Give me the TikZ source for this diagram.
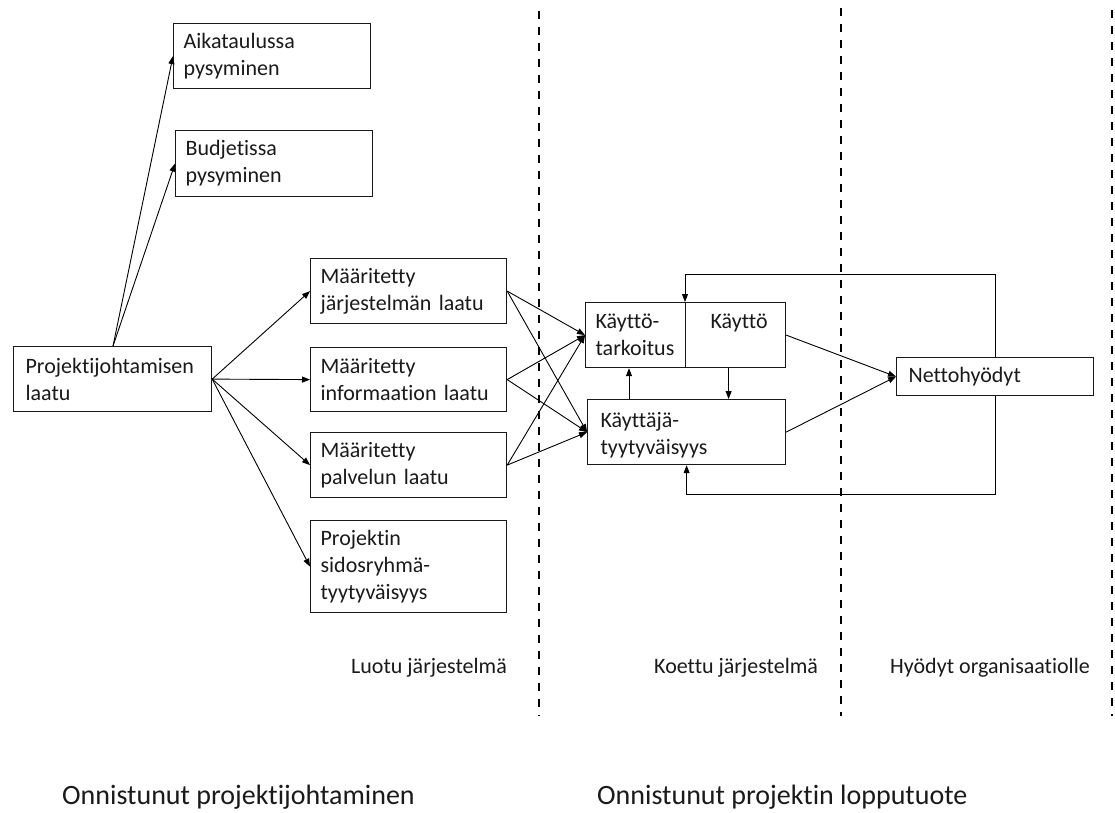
\documentclass[tikz,border=0pt]{standalone}
\usepackage{fontspec}
\setmainfont{Carlito}[Ligatures={NoCommon}]
\usetikzlibrary{arrows.meta,calc}
\definecolor{txt}{HTML}{1A1A1A}
\tikzset{
  box/.style={draw=black!90, line width=1.2pt, rectangle, anchor=north west,
    align=left, inner ysep=0pt, text=txt,
    font=\fontsize{22}{27}\selectfont},
  arr/.style={draw=black, line width=0.9pt, -{Triangle[length=8pt,width=6pt]}},
  dashline/.style={draw=black, line width=2.5pt, dash pattern=on 8pt off 8pt},
  lbl/.style={inner sep=0pt, text=txt, font=\fontsize{22}{27}\selectfont},
  biglbl/.style={inner sep=0pt, text=txt, font=\fontsize{28}{34}\selectfont}
}
\begin{document}
\begin{tikzpicture}[x=1pt,y=-1pt]
\useasboundingbox[fill=white] (0,0) rectangle (1115,812);

% dashed separators
\draw[dashline] (539,11) -- (539,716);
\draw[dashline] (841,8) -- (841,716);
\draw[dashline] (1112,10) -- (1112,716);

% boxes
\node[box, text width=177pt, inner xsep=10pt, minimum height=65pt] (aika) at (173,23) {Aikataulussa\\pysyminen};
\node[box, text width=177pt, inner xsep=10pt, minimum height=66pt] (budj) at (175,130) {Budjetissa\\pysyminen};
\node[box, text width=174pt, inner xsep=12pt, minimum height=65pt] (proj) at (13,346) {Projektijohtamisen\\laatu};
\node[box, text width=176pt, inner xsep=10pt, minimum height=65pt] (mj) at (310,258) {Määritetty\\järjestelmän laatu};
\node[box, text width=176pt, inner xsep=10pt, minimum height=64pt] (mi) at (310,347) {Määritetty\\informaation laatu};
\node[box, text width=176pt, inner xsep=10pt, minimum height=65pt] (mp) at (310,432) {Määritetty\\palvelun laatu};
\node[box, text width=176pt, inner xsep=10pt, minimum height=92pt] (ps) at (310,520) {Projektin\\sidosryhmä-\\tyytyväisyys};
\node[box, text width=80pt, inner xsep=10pt, minimum height=65pt] (kt) at (585,302) {Käyttö-\\tarkoitus};
\node[box, text width=60pt, inner xsep=20pt, minimum height=65pt] (ky) at (685,302) {\hspace*{5pt}Käyttö\\\mbox{}};
\node[box, text width=172pt, inner xsep=13pt, minimum height=65pt] (kj) at (587,399) {\rule{0pt}{22pt}Käyttäjä-\\tyytyväisyys};
\node[box, text width=173pt, inner xsep=12pt, minimum height=38pt] (net) at (896,357) {Nettohyödyt};

% connectors from project management quality
\draw[arr] ([xshift=100pt]proj.north west) -- (aika.west);
\draw[arr] ([xshift=100pt]proj.north west) -- (budj.west);
\draw[arr] (proj.east) -- (mj.west);
\draw[arr] (proj.east) -- (mi.west);
\draw[arr] (proj.east) -- (mp.west);
\draw[arr] (proj.east) -- (ps.west);

% quality boxes to use / satisfaction
\draw[arr] (mj.east) -- (kt.west);
\draw[arr] (mj.east) -- (kj.west);
\draw[arr] (mi.east) -- (kt.west);
\draw[arr] (mi.east) -- (kj.west);
\draw[arr] (mp.east) -- (kt.west);
\draw[arr] (mp.east) -- (kj.west);

% between use and satisfaction
\draw[arr] ([xshift=42pt]kj.north west) -- ([xshift=42pt]kj.north west |- kt.south);
\draw[arr] ([xshift=-7pt]ky.south) -- ([xshift=-7pt]ky.south |- kj.north);

% to net benefits
\draw[arr] (ky.east) -- (net.west);
\draw[arr] (kj.east) -- (net.west);

% feedback loops
\draw[arr] (net.north) -- ++(0,-83) -| (ky.north west);
\draw[arr] (net.south) -- ++(0,98) -| (kj.south);

% labels
\node[lbl, anchor=base west] (l1) at (351,673) {Luotu järjestelmä};
\node[lbl, anchor=base west] (l2) at (654,673) {Koettu järjestelmä};
\node[lbl, anchor=base west] (l3) at (890,673) {Hyödyt organisaatiolle};
\node[biglbl, anchor=base west] (b1) at (62,804) {Onnistunut projektijohtaminen};
\node[biglbl, anchor=base west] (b2) at (597,804) {Onnistunut projektin lopputuote};
\end{tikzpicture}
\end{document}
